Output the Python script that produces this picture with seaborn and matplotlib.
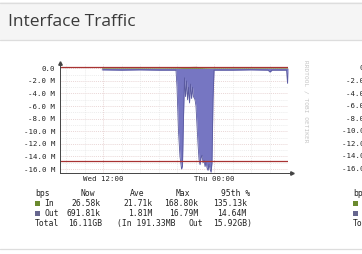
import matplotlib
matplotlib.use("Agg")
import matplotlib.pyplot as plt
from matplotlib.patches import Rectangle
import numpy as np
import pandas as pd
import seaborn as sns

# ---------------- data (hours since Wed 00:00, values in Mbps) ----------------
out_hours = [11.9, 14.0, 16.0, 18.0, 19.89, 20.0, 20.16, 20.32, 20.49, 20.59, 20.70, 20.81,
             20.92, 21.03, 21.14, 21.24, 21.35, 21.46, 21.57, 21.68, 21.78, 21.95, 22.05,
             22.16, 22.27, 22.38, 22.49, 22.59, 22.70, 22.81, 22.92, 23.03, 23.14, 23.24,
             23.35, 23.46, 23.57, 23.68, 23.78, 23.89, 24.0, 26.0, 28.0, 29.84, 30.05,
             30.27, 31.84, 31.95, 32.0]
out_values = [-0.25, -0.3, -0.25, -0.3, -0.3, -3.0, -10.0, -14.0, -16.0, -15.5, -8.0, -1.5,
              -4.5, -2.0, -5.0, -3.0, -5.5, -2.5, -4.8, -3.0, -4.5, -5.0, -6.0,
              -9.0, -12.0, -14.5, -15.3, -14.2, -13.8, -15.0, -14.6, -15.6, -14.8, -15.8,
              -16.2, -15.2, -16.0, -16.5, -15.0, -5.0, -0.3, -0.3, -0.25, -0.3, -0.6,
              -0.3, -0.3, -2.4, -0.7]
in_hours = [11.9, 16.0, 20.0, 22.0, 24.0, 28.0, 32.0]
in_values = [0.02, 0.02, 0.1, 0.17, 0.03, 0.02, 0.03]
pct95_in = 0.135
pct95_out = -14.64

y_ticks = [0, -2, -4, -6, -8, -10, -12, -14, -16]
y_labels = ["0.0", "-2.0 M", "-4.0 M", "-6.0 M", "-8.0 M", "-10.0 M", "-12.0 M", "-14.0 M", "-16.0 M"]
x_ticks = [12, 24]
x_labels = ["Wed 12:00", "Thu 00:00"]

legend_header = ["bps", "Now", "Ave", "Max", "95th %"]
in_stats = ["26.58k", "21.71k", "168.80k", "135.13k"]
out_stats = ["691.81k", "1.81M", "16.79M", "14.64M"]
total_text = ["Total", "16.11GB", "(In 191.33MB", "Out", "15.92GB)"]

title = "Interface Traffic"
watermark = "RRDTOOL / TOBI OETIKER"

# ---------------- styling ----------------
W, H = 362, 254
sns.set_theme(style="white")
plt.rcParams["font.family"] = ["DejaVu Sans Mono", "DejaVu Sans"]

fig = plt.figure(figsize=(W / 100, H / 100), dpi=100)
fig.patch.set_facecolor("white")

def fx(x):
    return x / W

def fy(y):
    return 1 - y / H

OUT_FILL = "#7676c2"
OUT_EDGE = "#5a5aa0"
IN_FILL = "#6b8a2e"
RED = "#a83232"
MONO = "DejaVu Sans Mono"

# title bar
fig.patches.append(Rectangle((0, fy(40.5)), 1, (40.5 - 2.5) / H, transform=fig.transFigure,
                             facecolor="#f5f5f5", edgecolor="none", zorder=0))
fig.add_artist(plt.Line2D([0, 1], [fy(2.5), fy(2.5)], transform=fig.transFigure, color="#dddddd", lw=0.9))
fig.add_artist(plt.Line2D([0, 1], [fy(40.5), fy(40.5)], transform=fig.transFigure, color="#dddddd", lw=0.9))
fig.text(fx(8), fy(21.5), title, family="Open Sans", fontsize=12.5, color="#3a3a3a",
         ha="left", va="center")
fig.add_artist(plt.Line2D([0, 1], [fy(248.5), fy(248.5)], transform=fig.transFigure, color="#dddddd", lw=0.9))

# ---------------- axes ----------------
L, R, T, B = 60, 288, 64, 172.5
ax = fig.add_axes([fx(L), fy(B), (R - L) / W, (B - T) / H])
ax.set_facecolor("white")

out_df = pd.DataFrame({"hour": out_hours, "bps": out_values})
in_df = pd.DataFrame({"hour": in_hours, "bps": in_values})

ax.fill_between(out_df["hour"], 0, out_df["bps"], color=OUT_FILL, lw=0, zorder=3)
sns.lineplot(data=out_df, x="hour", y="bps", ax=ax, color=OUT_EDGE, lw=0.6, zorder=4)
ax.fill_between(in_df["hour"], 0, in_df["bps"], color=IN_FILL, lw=0, zorder=3)
sns.lineplot(data=in_df, x="hour", y="bps", ax=ax, color=IN_FILL, lw=0.5, zorder=4)

ax.axhline(pct95_in, color=RED, lw=0.9, zorder=5)
ax.axhline(pct95_out, color=RED, lw=0.9, zorder=5)

ax.set_xlim(7.35, 32.0)
ax.set_ylim(-16.54, 0.68)

# grid
for v in np.arange(-16, 1, 1):
    major = (v % 2 == 0)
    ax.axhline(v, color="#e2c8c8" if major else "#e6e6e6", lw=0.5, ls=(0, (1.5, 1.5)), zorder=1)
for h in np.arange(8, 33, 2):
    major = (h % 12 == 0)
    ax.axvline(h, color="#e2c8c8" if major else "#e6e6e6", lw=0.5, ls=(0, (1.5, 1.5)), zorder=1)

ax.set_yticks(y_ticks)
ax.set_yticklabels(y_labels, family=MONO, fontsize=5.3, color="#222222")
ax.set_xticks(x_ticks)
ax.set_xticklabels(x_labels, family=MONO, fontsize=5.3, color="#222222")
ax.tick_params(axis="both", length=0)
ax.tick_params(axis="y", pad=3.6)
ax.tick_params(axis="x", pad=2.6)
ax.set_xlabel("")
ax.set_ylabel("")

for s in ["top", "right"]:
    ax.spines[s].set_visible(False)
for s in ["left", "bottom"]:
    ax.spines[s].set_color("#444444")
    ax.spines[s].set_linewidth(0.7)
    ax.spines[s].set_zorder(6)

# axis arrows
ax.plot([1.0, 1.0 + 4 / (R - L)], [0, 0], transform=ax.transAxes, color="#444444", lw=0.7, clip_on=False)
ax.plot([1.0 + 4 / (R - L)], [0], marker=">", ms=2.5, color="#444444", transform=ax.transAxes, clip_on=False)
ax.plot([0, 0], [1.0, 1.0 + 1.5 / (B - T)], transform=ax.transAxes, color="#444444", lw=0.7, clip_on=False)
ax.plot([0], [1.0 + 1.5 / (B - T)], marker="^", ms=2.5, color="#444444", transform=ax.transAxes, clip_on=False)
leg = ax.get_legend()
if leg is not None:
    leg.remove()

# watermark
fig.text(fx(306.5), fy(101), watermark, rotation=270, family=MONO, fontsize=4.4, color="#c4c4c4",
         ha="center", va="center")

# ---------------- legend table ----------------
FS = 5.8
TXT = "#222222"

def legend_block(off):
    y0, y1, y2, y3 = 193.3, 203.3, 213.3, 223.3
    fig.text(fx(35 + off), fy(y0), legend_header[0], family=MONO, fontsize=FS, color=TXT, ha="left", va="center")
    for xr, s in zip([95, 144, 190, 250.7], legend_header[1:]):
        fig.text(fx(xr + off), fy(y0), s, family=MONO, fontsize=FS, color=TXT, ha="right", va="center")
    for y, col, name, stats in [(y1, IN_FILL, "In", in_stats), (y2, "#66668f", "Out", out_stats)]:
        fig.patches.append(Rectangle((fx(34.7 + off), fy(y + 2.7)), 5.4 / W, 5.4 / H,
                                     transform=fig.transFigure, facecolor=col, edgecolor="none"))
        fig.text(fx(44.3 + off), fy(y), name, family=MONO, fontsize=FS, color=TXT, ha="left", va="center")
        for xr, s in zip([101, 152.7, 198.3, 246.7], stats):
            fig.text(fx(xr + off), fy(y), s, family=MONO, fontsize=FS, color=TXT, ha="right", va="center")
    fig.text(fx(35 + off), fy(y3), total_text[0], family=MONO, fontsize=FS, color=TXT, ha="left", va="center")
    fig.text(fx(101.7 + off), fy(y3), total_text[1], family=MONO, fontsize=FS, color=TXT, ha="right", va="center")
    fig.text(fx(117.3 + off), fy(y3), total_text[2], family=MONO, fontsize=FS, color=TXT, ha="left", va="center")
    fig.text(fx(188.3 + off), fy(y3), total_text[3], family=MONO, fontsize=FS, color=TXT, ha="left", va="center")
    fig.text(fx(252.3 + off), fy(y3), total_text[4], family=MONO, fontsize=FS, color=TXT, ha="right", va="center")

legend_block(0)

# second (partially visible) graph at the right edge, cut off by the frame as in the reference
OFF = 318
for v, lab in zip(y_ticks, y_labels):
    ypix = 68.3 - v * 6.3
    fig.text(fx(55.5 + OFF), fy(ypix), lab, family=MONO, fontsize=5.3, color="#222222", ha="right", va="center")
legend_block(OFF)

fig.savefig("out.png", dpi=100, facecolor="white")
